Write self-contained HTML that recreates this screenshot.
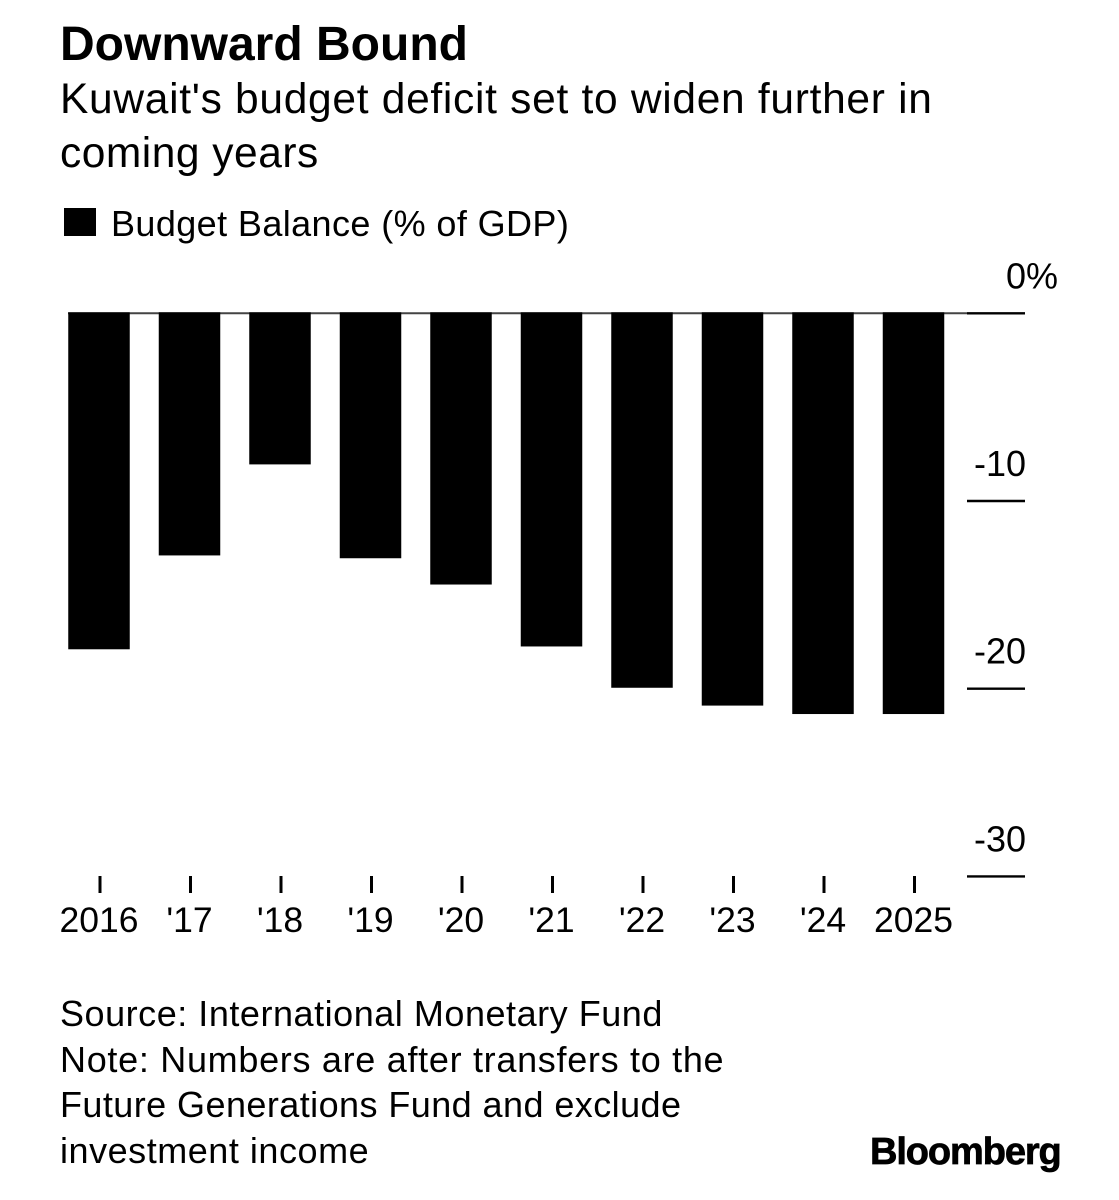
<!DOCTYPE html>
<html>
<head>
<meta charset="utf-8">
<style>
html,body{margin:0;padding:0;background:#fff;}
#wrap{position:relative;width:1119px;height:1200px;overflow:hidden;background:#fff;color:#000;font-family:"Liberation Sans",sans-serif;}
.t{position:absolute;white-space:nowrap;}
svg{position:absolute;left:0;top:0;}
svg text{font-family:"Liberation Sans",sans-serif;fill:#000;}
</style>
</head>
<body>
<div id="wrap">
  <div class="t" style="left:60px;top:17px;font-size:48px;line-height:56px;font-weight:bold;">Downward Bound</div>
  <div class="t" style="left:60px;top:73px;font-size:42.5px;line-height:54px;letter-spacing:0.7px;">Kuwait's budget deficit set to widen further in<br><span style="letter-spacing:0.5px;">coming years</span></div>
  <div style="position:absolute;left:64px;top:208px;width:32px;height:28px;background:#000;"></div>
  <div class="t" style="left:111px;top:203px;font-size:36px;line-height:42px;letter-spacing:0.4px;">Budget Balance (% of GDP)</div>
  <svg id="chart" width="1119" height="1200" viewBox="0 0 1119 1200"></svg>
  <div class="t" style="left:60px;top:991px;font-size:36px;line-height:45.5px;">
    <div style="letter-spacing:0.53px;">Source: International Monetary Fund</div>
    <div style="letter-spacing:0.7px;">Note: Numbers are after transfers to the</div>
    <div style="letter-spacing:0.43px;">Future Generations Fund and exclude</div>
    <div style="letter-spacing:0.53px;">investment income</div>
  </div>
  <div class="t" style="left:870px;top:1130px;font-size:38px;line-height:44px;font-weight:bold;letter-spacing:-1.1px;-webkit-text-stroke:0.7px #000;">Bloomberg</div>
</div>
<script>
const categories = ["2016", "'17", "'18", "'19", "'20", "'21", "'22", "'23", "'24", "2025"];
const budgetBalance = [-17.9, -12.9, -8.05, -13.05, -14.45, -17.75, -19.95, -20.9, -21.35, -21.35];
const yTicks = [0, -10, -20, -30];
const yTickLabels = ["0%", "-10", "-20", "-30"];

const svgNS = "http://www.w3.org/2000/svg";
const chart = document.getElementById("chart");
function yScale(v) { return 313.3 + (-v) * 18.77; }
function xScale(i) { return 99 + i * 90.5 * (categories.length > 1 ? 9 / (categories.length - 1) : 1); }
function add(tag, attrs, text) {
  const el = document.createElementNS(svgNS, tag);
  for (const k in attrs) el.setAttribute(k, attrs[k]);
  if (text !== undefined) el.textContent = text;
  chart.appendChild(el);
  return el;
}
const barWidth = 61.5;

const zeroLine = add("line", {x1: 68, x2: 967, y1: yScale(0), y2: yScale(0), stroke: "#444", "stroke-width": 2});



budgetBalance.forEach(function (v, i) {
  const top = yScale(Math.max(v, 0));
  const bottom = yScale(Math.min(v, 0));
  const bar = add("rect", {x: xScale(i) - barWidth / 2, y: top - 1, width: barWidth, height: bottom - top + 1, fill: "#000"});
  
  

  const tick = add("line", {x1: xScale(i) + 1, x2: xScale(i) + 1, y1: 876, y2: 893, stroke: "#000", "stroke-width": 3});
  
  

  const label = add("text", {x: xScale(i), y: 932, "text-anchor": "middle", "font-size": 35.5}, categories[i]);
  
  
});

yTicks.forEach(function (v, i) {
  const tick = add("line", {x1: 967, x2: 1025, y1: yScale(v), y2: yScale(v), stroke: "#000", "stroke-width": 2.4});
  
  

  const label = add("text", {x: i === 0 ? 1058 : 1026, y: yScale(v) - 25, "text-anchor": "end", "font-size": 36}, yTickLabels[i]);
  
  
});
</script>
</body>
</html>
